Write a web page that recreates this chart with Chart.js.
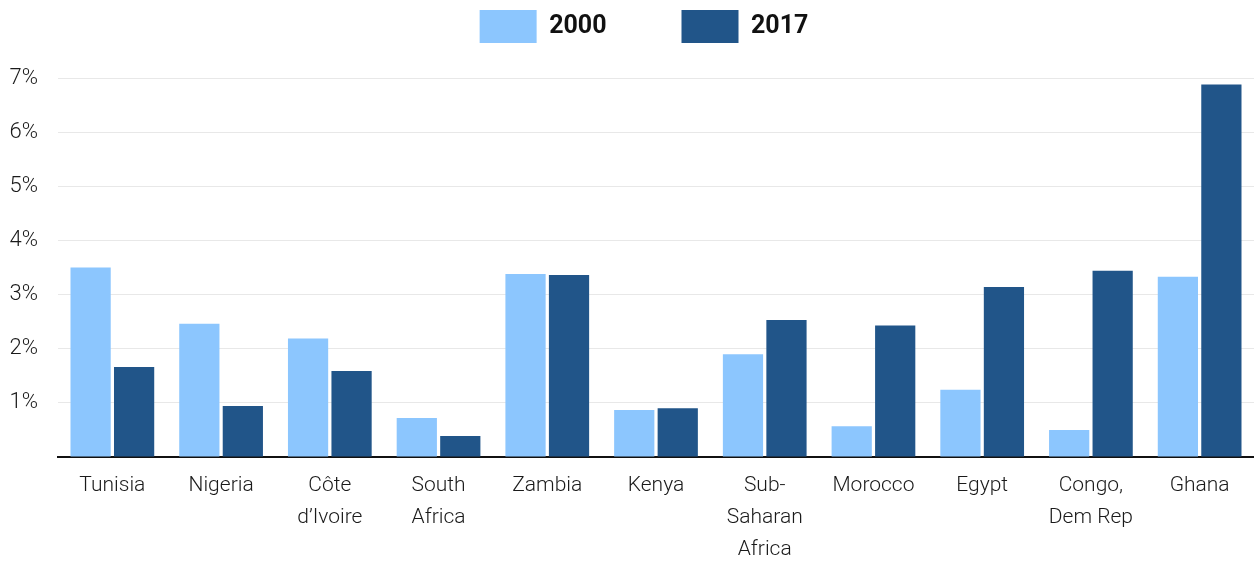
<!DOCTYPE html>
<html>
<head>
<meta charset="utf-8">
<script src="https://cdn.jsdelivr.net/npm/chart.js@4"></script>
<style>
  html, body { margin: 0; padding: 0; background: #fff; }
  #wrap { width: 1254px; height: 561px; }
</style>
</head>
<body>
<div id="wrap"><canvas id="myChart"></canvas></div>
<script>
const countries = [
  "Tunisia", "Nigeria", ["Côte", "d’Ivoire"], ["South", "Africa"], "Zambia", "Kenya",
  ["Sub-", "Saharan", "Africa"], "Morocco", "Egypt", ["Congo,", "Dem Rep"], "Ghana",
];
const values2000 = [3.5, 2.46, 2.19, 0.72, 3.38, 0.87, 1.9, 0.57, 1.24, 0.5, 3.33];
const values2017 = [1.66, 0.94, 1.59, 0.39, 3.36, 0.9, 2.53, 2.43, 3.14, 3.44, 6.88];
const yTicks = [0, 1, 2, 3, 4, 5, 6, 7];

const FONT = "Roboto, sans-serif";

// legend sits in a fixed 78px band, items spread apart like the original
const legendSpacing = {
  id: "legendSpacing",
  beforeInit(chart) {
    const fit = chart.legend.fit;
    chart.legend.fit = function () {
      fit.call(this);
      this.height = 78;
    };
  },
  afterLayout(chart) {
    const lg = chart.legend;
    const shift = lg.options.labels.padding - 10;
    lg.top -= shift;
    lg.left += 17;
    lg.right += 17;
  },
};

new Chart(document.getElementById("myChart"), {
  type: "bar",
  data: {
    labels: countries,
    datasets: [
      {
        label: "2000",
        data: values2000,
        backgroundColor: "#8cc6fe",
      },
      {
        label: "2017",
        data: values2017,
        backgroundColor: "#215589",
      },
    ],
  },
  options: {
    responsive: true,
    maintainAspectRatio: false,
    animation: false,
    categoryPercentage: 0.8,
    barPercentage: 0.925,
    layout: { padding: 0 },
    plugins: {
      tooltip: { enabled: false },
      legend: {
        position: "top",
        labels: {
          boxWidth: 57,
          boxHeight: 33,
          padding: 75,
          color: "#111",
          font: { family: FONT, size: 25, weight: "bold" },
        },
      },
    },
    scales: {
      x: {
        grid: { display: false, drawTicks: false },
        border: { color: "#111", width: 2 },
        ticks: {
          color: "#1a1a1a",
          padding: 13,
          maxRotation: 0,
          autoSkip: false,
          font: { family: FONT, size: 21, weight: 300, lineHeight: 1.524 },
        },
        afterFit(scale) {
          scale.height = 104;
        },
      },
      y: {
        min: 0,
        max: 7,
        afterBuildTicks(scale) {
          scale.ticks = yTicks.map((v) => ({ value: v }));
        },
        grid: {
          drawTicks: false,
          color: (ctx) => (ctx.tick && ctx.tick.value === 0 ? "rgba(0,0,0,0)" : "#e8e8e8"),
        },
        border: { display: false },
        ticks: {
          color: "#1a1a1a",
          padding: 20,
          font: { family: FONT, size: 22, weight: 300 },
          callback: (v) => (v === 0 ? "" : v + "%"),
        },
        afterFit(scale) {
          scale.width = 58;
        },
      },
    },
  },
  plugins: [legendSpacing],
});
</script>
</body>
</html>
